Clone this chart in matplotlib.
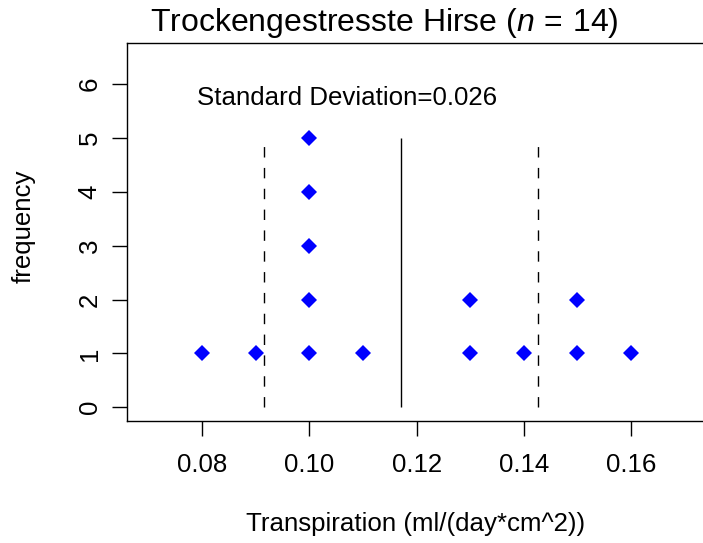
import numpy as np
import matplotlib
matplotlib.use("Agg")
import matplotlib.pyplot as plt

plt.rcParams["font.family"] = ["Liberation Sans", "DejaVu Sans"]
plt.rcParams["mathtext.fontset"] = "custom"
plt.rcParams["mathtext.rm"] = "Liberation Sans"
plt.rcParams["mathtext.it"] = "Liberation Sans:italic"

# transpiration values, one per plant, with their stacked frequency position
transpiration = [0.08, 0.09, 0.10, 0.10, 0.10, 0.10, 0.10, 0.11,
                 0.13, 0.13, 0.14, 0.15, 0.15, 0.16]
frequency = [1, 1, 1, 2, 3, 4, 5, 1, 1, 2, 1, 1, 2, 1]
x_ticks = [0.08, 0.10, 0.12, 0.14, 0.16]
y_ticks = [0, 1, 2, 3, 4, 5, 6]

vals = np.array(transpiration)
mean = vals.mean()
sd = vals.std(ddof=1)
n = len(vals)

FS = 18.6  # base font size

fig = plt.figure(figsize=(7.03, 5.43), dpi=100)
ax = fig.add_axes([127.3 / 703, 121.7 / 543, (706 - 127.3) / 703, 378 / 543])

ax.plot(transpiration, frequency, "D", color="blue", markersize=8.3,
        markeredgewidth=0, clip_on=False)

ax.vlines(mean, 0, max(frequency), colors="black", linewidth=1.0)
for v in (mean - sd, mean + sd):
    ax.plot([v, v], [0, 4.9], color="black", linewidth=1.0, dashes=(7.5, 7.5))

ax.text(0.107, 5.74, f"Standard Deviation={sd:.3f}", ha="center", va="center",
        fontsize=FS)

ax.set_xlim(0.066, 0.174)
ax.set_ylim(-0.26, 6.76)
ax.set_xticks(x_ticks)
ax.set_xticklabels([f"{t:.2f}" for t in x_ticks])
ax.set_yticks(y_ticks)
ax.set_yticklabels([str(t) for t in y_ticks], rotation=90, va="center")
ax.tick_params(axis="both", direction="out", length=10.8, width=1.0,
               labelsize=FS)
ax.tick_params(axis="x", pad=12)
ax.tick_params(axis="y", pad=7.6)
for sp in ax.spines.values():
    sp.set_linewidth(1.0)

fig.text(384 / 703, 1 - 23 / 543, rf"Trockengestresste Hirse ($n\,=\,{n}$)",
         ha="center", va="center", fontsize=23)
fig.text(416 / 703, 1 - 524 / 543, "Transpiration (ml/(day*cm^2))",
         ha="center", va="center", fontsize=FS)
fig.text(24 / 703, 1 - 226 / 543, "frequency", ha="center", va="center",
         rotation=90, fontsize=FS)

fig.savefig("out.png", dpi=100)
